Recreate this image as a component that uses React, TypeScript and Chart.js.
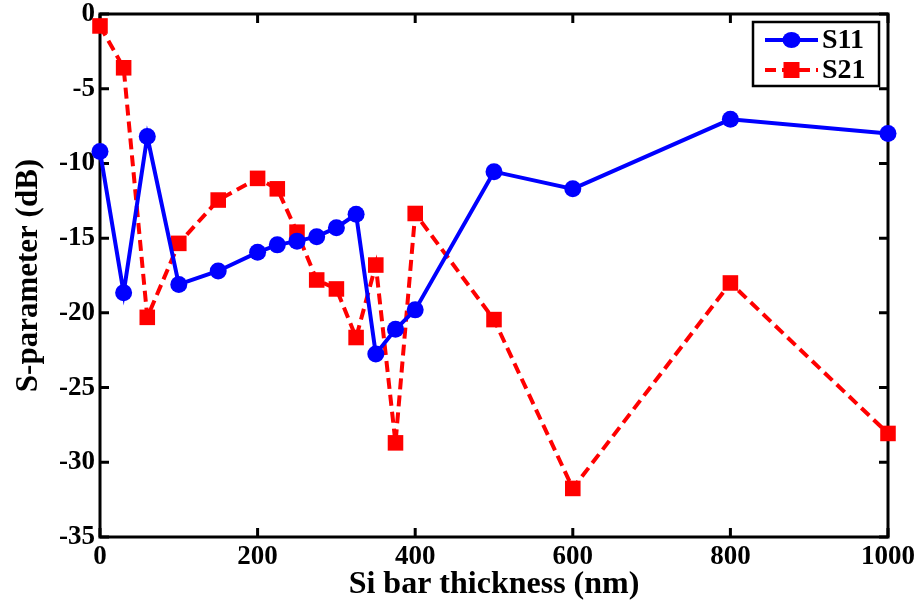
import React, { useEffect, useRef } from "react";
import { Chart, registerables } from "chart.js";

Chart.register(...registerables);

const thickness = [0, 30, 60, 100, 150, 200, 225, 250, 275, 300, 325, 350, 375, 400, 500, 600, 800, 1000];
const s11 = [-9.2, -18.65, -8.2, -18.1, -17.2, -15.95, -15.45, -15.2, -14.9, -14.3, -13.4, -22.75, -21.1, -19.8, -10.55, -11.7, -7.05, -8.0];
const s21 = [-0.8, -3.6, -20.3, -15.35, -12.45, -11.0, -11.7, -14.6, -17.8, -18.4, -21.65, -16.8, -28.7, -13.35, -20.45, -31.75, -18.0, -28.07];
const xTicks = [0, 200, 400, 600, 800, 1000];
const yTicks = [-35, -30, -25, -20, -15, -10, -5, 0];
const seriesNames = ["S11", "S21"];

const FONT = "'Liberation Serif', 'Times New Roman', serif";

const framePlugin = {
  id: "frame",
  beforeDatasetsDraw(chart: any) {
    const { ctx, chartArea } = chart;
    const { left, right, top, bottom } = chartArea;
    const xs = chart.scales.x;
    const ys = chart.scales.y;
    ctx.save();
    ctx.strokeStyle = "#000";
    ctx.lineWidth = 3;
    ctx.strokeRect(left, top, right - left, bottom - top);
    const tl = 9;
    ctx.beginPath();
    xTicks.forEach((v) => {
      const px = xs.getPixelForValue(v);
      ctx.moveTo(px, bottom);
      ctx.lineTo(px, bottom - tl);
      ctx.moveTo(px, top);
      ctx.lineTo(px, top + tl);
    });
    yTicks.forEach((v) => {
      const py = ys.getPixelForValue(v);
      ctx.moveTo(left, py);
      ctx.lineTo(left + tl, py);
      ctx.moveTo(right, py);
      ctx.lineTo(right - tl, py);
    });
    ctx.stroke();
    ctx.restore();
  },
  afterDraw(chart: any) {
    const { ctx, chartArea } = chart;
    const bx = chartArea.right - 135;
    const by = chartArea.top + 8;
    const bw = 126;
    const bh = 64;
    ctx.save();
    ctx.fillStyle = "#fff";
    ctx.fillRect(bx, by, bw, bh);
    ctx.strokeStyle = "#000";
    ctx.lineWidth = 2.5;
    ctx.strokeRect(bx, by, bw, bh);
    chart.data.datasets.forEach((ds: any, i: number) => {
      const cy = by + 18 + i * 30;
      const x0 = bx + 12;
      const x1 = bx + 65;
      ctx.strokeStyle = ds.borderColor;
      ctx.lineWidth = ds.borderWidth;
      ctx.setLineDash(ds.borderDash || []);
      ctx.beginPath();
      ctx.moveTo(x0, cy);
      ctx.lineTo(x1, cy);
      ctx.stroke();
      ctx.setLineDash([]);
      ctx.fillStyle = ds.backgroundColor;
      const mx = (x0 + x1) / 2;
      if (ds.pointStyle === "rect") {
        ctx.fillRect(mx - 8, cy - 8, 16, 16);
      } else {
        ctx.beginPath();
        ctx.ellipse(mx, cy, 9, 8, 0, 0, Math.PI * 2);
        ctx.fill();
      }
      ctx.fillStyle = "#000";
      ctx.font = `bold 28px ${FONT}`;
      ctx.textBaseline = "middle";
      ctx.textAlign = "left";
      ctx.fillText(seriesNames[i], x1 + 4, cy + 1);
    });
    ctx.restore();
  },
};

export default function App() {
  const ref = useRef<HTMLCanvasElement>(null);
  useEffect(() => {
    document.body.style.margin = "0";
    const chart = new Chart(ref.current!, {
      type: "line",
      data: {
        datasets: [
          {
            label: seriesNames[0],
            data: thickness.map((x, i) => ({ x, y: s11[i] })),
            borderColor: "#0000ff",
            backgroundColor: "#0000ff",
            borderWidth: 4,
            pointStyle: "circle",
            pointRadius: 8.5,
            pointBorderWidth: 0,
            clip: false as any,
          },
          {
            label: seriesNames[1],
            data: thickness.map((x, i) => ({ x, y: s21[i] })),
            borderColor: "#ff0000",
            backgroundColor: "#ff0000",
            borderWidth: 4,
            borderDash: [11, 6],
            pointStyle: "rect",
            pointRadius: 11,
            pointBorderWidth: 0,
            clip: false as any,
          },
        ],
      },
      options: {
        responsive: false,
        animation: false,
        devicePixelRatio: 1,
        layout: { padding: { left: 0, right: 34, top: 14, bottom: 0 } },
        plugins: { legend: { display: false }, tooltip: { enabled: false } },
        scales: {
          x: {
            type: "linear",
            min: 0,
            max: 1000,
            afterBuildTicks: (s: any) => {
              s.ticks = xTicks.map((v) => ({ value: v }));
            },
            afterFit: (s: any) => {
              s.height = 73;
              s.paddingLeft = 0;
              s.paddingRight = 0;
            },
            grid: { display: false, drawTicks: false },
            border: { display: false },
            ticks: {
              color: "#000",
              padding: 7,
              font: { family: FONT, size: 27, weight: "bold", lineHeight: 1 },
              maxRotation: 0,
              callback: (v: any) => String(v),
            },
            title: {
              display: true,
              text: "Si bar thickness (nm)",
              color: "#000",
              font: { family: FONT, size: 32, weight: "bold", lineHeight: 1.2 },
              padding: { top: 0, bottom: 6 },
            },
          },
          y: {
            type: "linear",
            min: -35,
            max: 0,
            afterBuildTicks: (s: any) => {
              s.ticks = yTicks.map((v) => ({ value: v }));
            },
            afterFit: (s: any) => {
              s.width = 100;
              s.paddingTop = 0;
              s.paddingBottom = 0;
            },
            grid: { display: false, drawTicks: false },
            border: { display: false },
            ticks: {
              color: "#000",
              padding: 5,
              font: { family: FONT, size: 27, weight: "bold", lineHeight: 1 },
              callback: (v: any) => String(v),
            },
            title: {
              display: true,
              text: "S-parameter (dB)",
              color: "#000",
              font: { family: FONT, size: 31, weight: "bold" },
              padding: { top: 10, bottom: 0 },
            },
          },
        },
      },
      plugins: [framePlugin],
    });
    return () => chart.destroy();
  }, []);
  return (
    <div style={{ position: "fixed", left: 0, top: 0, width: 922, height: 610, background: "#fff" }}>
      <canvas ref={ref} width={922} height={610} />
    </div>
  );
}
